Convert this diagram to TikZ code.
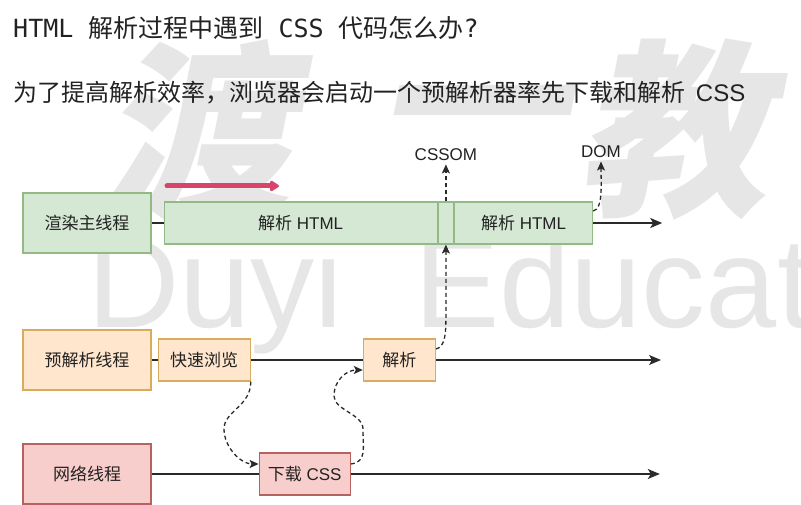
\documentclass[tikz,border=0pt]{standalone}
\usepackage{fontspec}
\setmainfont{Liberation Sans}
\setmonofont{DejaVu Sans Mono}
\newfontfamily\cjk{Noto Sans CJK SC}
\newfontfamily\wmfont[FakeSlant=0.2]{Noto Sans CJK SC}
\usetikzlibrary{positioning,arrows.meta}
\definecolor{greenfill}{HTML}{D5E8D4}
\definecolor{greenline}{HTML}{93BA85}
\definecolor{orangefill}{HTML}{FFE6CC}
\definecolor{orangeline}{HTML}{D6AC5E}
\definecolor{redfill}{HTML}{F8CECC}
\definecolor{redline}{HTML}{B8625F}
\definecolor{penred}{HTML}{D8446C}
\definecolor{wmgray}{HTML}{E6E6E6}
\definecolor{textdark}{HTML}{222222}
\definecolor{linedark}{HTML}{2A2A2A}
\tikzset{thread/.style={rectangle, draw, line width=1.2pt, minimum width=128pt, minimum height=60pt, inner sep=0pt, text=textdark, font=\cjk\fontsize{17}{20}\selectfont}}
\tikzset{task/.style={rectangle, draw, line width=1.2pt, minimum height=42pt, inner sep=0pt, text=textdark, font=\fontsize{17}{20}\selectfont}}
\tikzset{render/.style={fill=greenfill, draw=greenline}}
\tikzset{preparse/.style={fill=orangefill, draw=orangeline}}
\tikzset{network/.style={fill=redfill, draw=redline}}
\tikzset{result/.style={text=textdark, font=\fontsize{17}{20}\selectfont}}
\tikzset{link/.style={draw=linedark, line width=1.4pt}}
\tikzset{line/.style={link, -{Stealth[length=12pt,width=10pt,inset=3pt]}}}
\tikzset{flow/.style={draw=linedark, line width=1.3pt, dash pattern=on 4pt off 3pt, -{Stealth[length=9pt,width=8pt,inset=2pt]}}}
\tikzset{pen/.style={draw=penred, line width=5pt, line cap=round, -{Triangle[length=10pt,width=12pt,round]}}}
\tikzset{watermark/.style={text=wmgray, inner sep=0pt}}

\begin{document}
\begin{tikzpicture}[x=1pt, y=1pt]
\useasboundingbox (0,0) rectangle (801,504);
\node[watermark, font=\wmfont\bfseries\fontsize{190}{190}\selectfont] (wmdu) at (195,374) {渡};
\node[watermark, font=\wmfont\bfseries\fontsize{190}{190}\selectfont] (wmyi) at (470,374) {一};
\node[watermark, font=\wmfont\bfseries\fontsize{190}{190}\selectfont] (wmjiao) at (672,374) {教};
\node[watermark, anchor=base west, font=\fontsize{128}{128}\selectfont] (wmduyi) at (87,176) {Duyi};
\node[watermark, anchor=base west, font=\fontsize{128}{128}\selectfont] (wmedu) at (414,176) {Educat};

\node[anchor=base west, inner sep=0pt, text=textdark, font=\ttfamily\fontsize{25}{28}\selectfont] (title) at (13,466) {HTML {\cjk 解析过程中遇到} CSS {\cjk 代码怎么办}?};
\node[anchor=base west, inner sep=0pt, text=textdark, font=\cjk\fontsize{24}{28}\selectfont] (subtitle) at (13,402) {为了提高解析效率，浏览器会启动一个预解析器率先下载和解析\ \ {\rmfamily CSS}};

\node[thread, render] (main) at (87,281) {渲染主线程};
\node[task, render, minimum width=273pt, right=12pt of main] (html1) {{\cjk 解析} HTML};
\node[task, render, minimum width=15pt, right=0pt of html1] (gap) {};
\node[task, render, minimum width=138pt, right=0pt of gap] (html2) {{\cjk 解析} HTML};
\coordinate[right=69pt of html2] (mainend);
\node[result, above=37pt of gap] (cssom) {CSSOM};
\node[result] (dom) at (601,352) {DOM};

\node[thread, preparse] (pre) at (87,144) {预解析线程};
\node[task, preparse, minimum width=92pt, right=6pt of pre] (scan) {{\cjk 快速浏览}};
\node[task, preparse, minimum width=72pt, right=112pt of scan] (parse) {{\cjk 解析}};
\coordinate[right=225pt of parse] (preend);

\node[thread, network] (net) at (87,30) {网络线程};
\node[task, network, minimum width=91pt, right=107pt of net] (css) {{\cjk 下载} CSS};
\coordinate[right=309pt of css] (netend);

\coordinate (bendA) at (224,75);
\coordinate (bendB) at (363,75);
\coordinate (bendC) at (334,108);
\coordinate (bendD) at ([yshift=-74pt]gap.south);
\coordinate (pena) at (167,318);
\coordinate (penb) at (279,318);

\path[link] (main) -- (html1);
\path[line] (html2) -- (mainend);
\path[link] (pre) -- (scan);
\path[link] (scan) -- (parse);
\path[line] (parse) -- (preend);
\path[link] (net) -- (css);
\path[line] (css) -- (netend);

\path[flow] (scan.south east) .. controls +(0,-25) and +(0,18) .. (bendA) .. controls +(0,-18) and +(-18,0) .. ([yshift=10pt]css.west);
\path[flow] ([yshift=10pt]css.east) .. controls +(16,2) and +(0,-20) .. (bendB) .. controls +(0,15) and +(0,-14) .. (bendC) .. controls +(0,16) and +(-16,0) .. ([yshift=-10pt]parse.west);
\path[flow] ([yshift=11pt]parse.east) .. controls +(9,2) and +(0,-15) .. (bendD) -- (gap.south);
\path[flow] (gap.north) -- (cssom.south);
\path[flow] ([yshift=12pt]html2.east) .. controls +(10,2) and +(0,-22) .. (dom.south);
\path[pen] (pena) -- (penb);
\end{tikzpicture}
\end{document}
